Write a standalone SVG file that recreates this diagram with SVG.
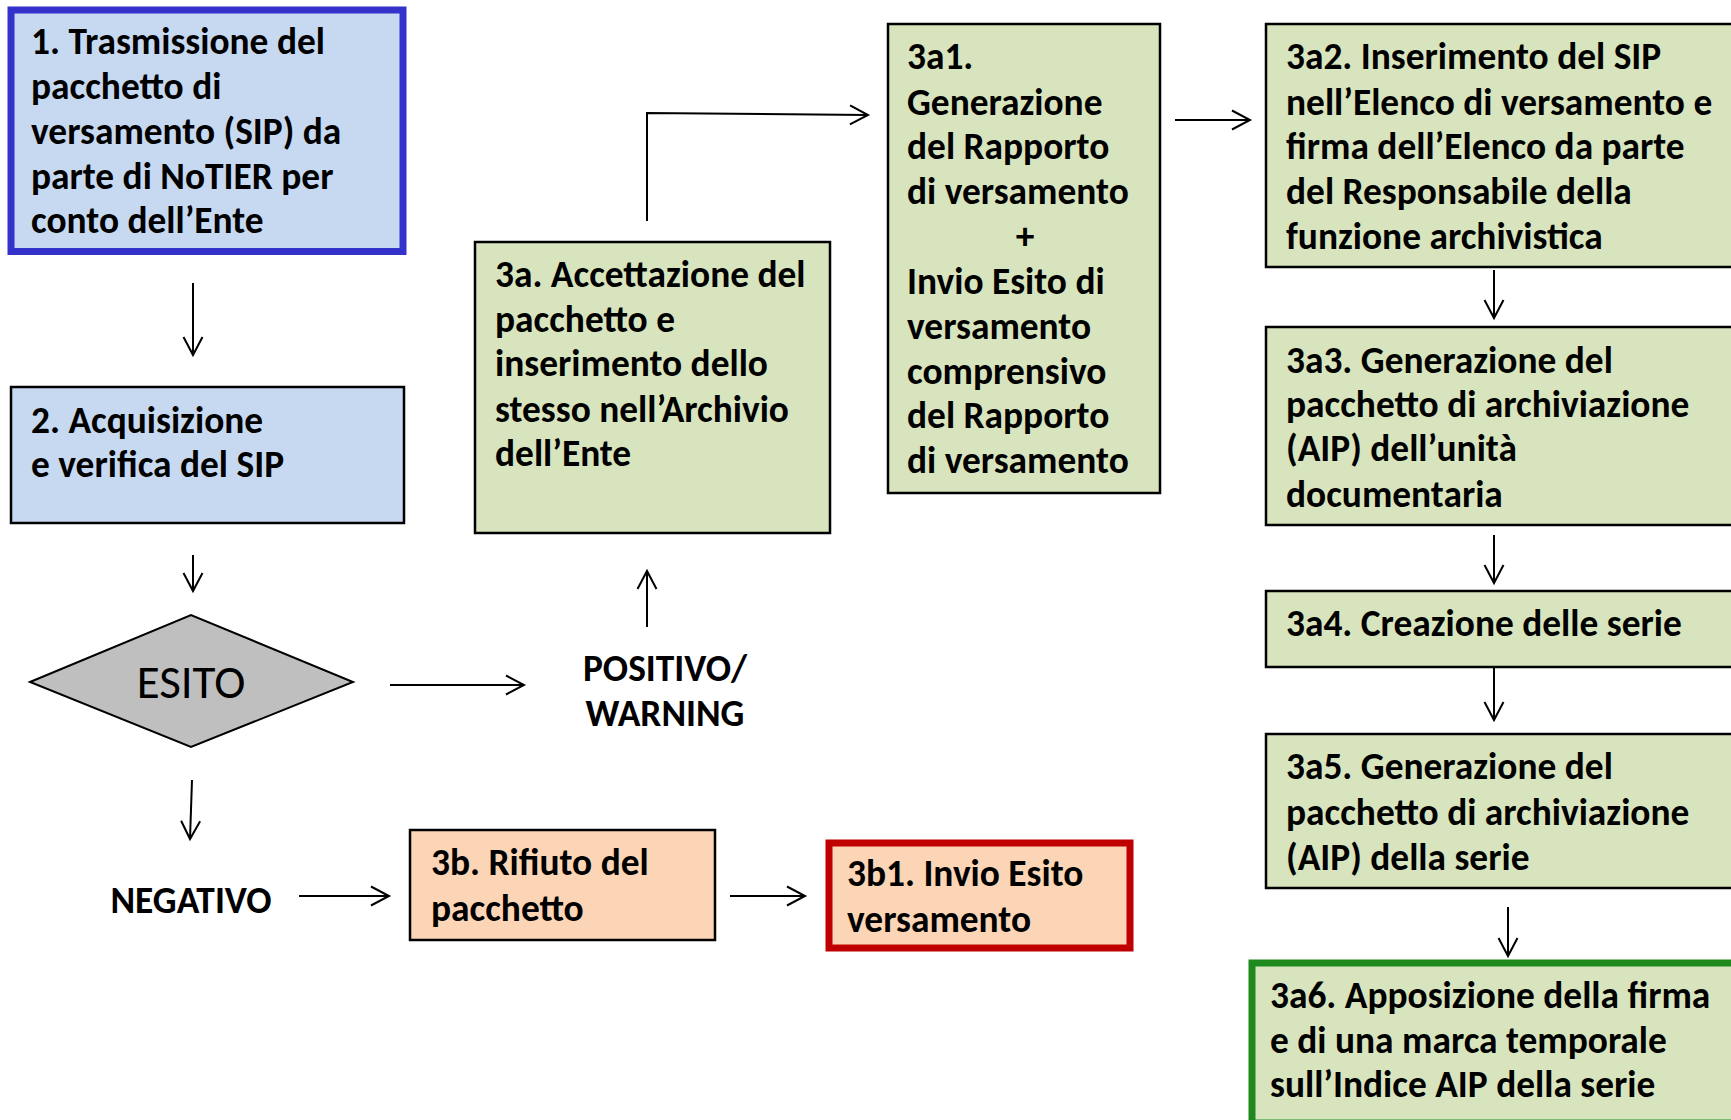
<svg xmlns="http://www.w3.org/2000/svg" width="1731" height="1120" viewBox="0 0 1731 1120">
<style>
.t{font-family:Carlito,Calibri,Lato,"Liberation Sans",sans-serif;font-weight:bold;font-size:37.4px;fill:#000}
.blue{fill:#C6D9F1}
.green{fill:#D7E4BD}
.peach{fill:#FBD5B5}
.thin{stroke:#000;stroke-width:2.5}
.c{fill:none;stroke:#000;stroke-width:2}
</style>
<defs>
<marker id="ah" markerUnits="userSpaceOnUse" markerWidth="24" markerHeight="24" viewBox="-20 -12 24 24" refX="0" refY="0" orient="auto">
<path d="M-18,-9.5 L0,0 L-18,9.5" fill="none" stroke="#000" stroke-width="2"/>
</marker>
</defs>
<rect width="1731" height="1120" fill="#fff"/>
<g id="connectors">
<line class="c" x1="193" y1="283" x2="193" y2="355" marker-end="url(#ah)"/>
<line class="c" x1="193" y1="555" x2="193" y2="591" marker-end="url(#ah)"/>
<line class="c" x1="390" y1="685" x2="524" y2="685" marker-end="url(#ah)"/>
<line class="c" x1="647" y1="627" x2="647" y2="571" marker-end="url(#ah)"/>
<polyline class="c" points="647,221 647,113 868,115" marker-end="url(#ah)"/>
<line class="c" x1="1175" y1="120" x2="1250" y2="120" marker-end="url(#ah)"/>
<line class="c" x1="1494" y1="270" x2="1494" y2="318" marker-end="url(#ah)"/>
<line class="c" x1="1494" y1="535" x2="1494" y2="583" marker-end="url(#ah)"/>
<line class="c" x1="1494" y1="667" x2="1494" y2="720" marker-end="url(#ah)"/>
<line class="c" x1="1508" y1="907" x2="1508" y2="956" marker-end="url(#ah)"/>
<line class="c" x1="192" y1="780" x2="190" y2="839" marker-end="url(#ah)"/>
<line class="c" x1="299" y1="896" x2="389" y2="896" marker-end="url(#ah)"/>
<line class="c" x1="730" y1="896" x2="805" y2="896" marker-end="url(#ah)"/>
</g>
<g id="n1">
<rect class="blue" x="11" y="10" width="392" height="241.5" stroke="#3333CC" stroke-width="7"/>
<text class="t"><tspan x="31" y="54">1. Trasmissione del</tspan><tspan x="31" y="99">pacchetto di</tspan><tspan x="31" y="144">versamento (SIP) da</tspan><tspan x="31" y="189">parte di NoTIER per</tspan><tspan x="31" y="233">conto dell’Ente</tspan></text>
</g>
<g id="n2">
<rect class="blue thin" x="11" y="387" width="393" height="136"/>
<text class="t"><tspan x="31" y="433">2. Acquisizione</tspan><tspan x="31" y="477">e verifica del SIP</tspan></text>
</g>
<g id="esito">
<polygon points="30,682 191,615 353,682 191,747" fill="#BFBFBF" stroke="#000" stroke-width="2"/>
<text x="191" y="698" text-anchor="middle" style="font-family:Carlito,Calibri,Lato,'Liberation Sans',sans-serif;font-size:47px">ESITO</text>
</g>
<g id="positivo">
<text class="t" text-anchor="middle"><tspan x="665" y="681">POSITIVO/</tspan><tspan x="665" y="726">WARNING</tspan></text>
</g>
<g id="negativo">
<text class="t" text-anchor="middle" x="191" y="913">NEGATIVO</text>
</g>
<g id="n3a">
<rect class="green thin" x="475" y="242" width="355" height="291"/>
<text class="t"><tspan x="495" y="287">3a. Accettazione del</tspan><tspan x="495" y="332">pacchetto e</tspan><tspan x="495" y="376">inserimento dello</tspan><tspan x="495" y="422">stesso nell’Archivio</tspan><tspan x="495" y="466">dell’Ente</tspan></text>
</g>
<g id="n3a1">
<rect class="green thin" x="888" y="24" width="272" height="469"/>
<text class="t"><tspan x="907" y="69">3a1.</tspan><tspan x="907" y="115">Generazione</tspan><tspan x="907" y="159">del Rapporto</tspan><tspan x="907" y="204">di versamento</tspan><tspan x="1025" y="249" text-anchor="middle">+</tspan><tspan x="907" y="294">Invio Esito di</tspan><tspan x="907" y="339">versamento</tspan><tspan x="907" y="384">comprensivo</tspan><tspan x="907" y="428">del Rapporto</tspan><tspan x="907" y="473">di versamento</tspan></text>
</g>
<g id="n3a2">
<rect class="green thin" x="1266" y="24" width="480" height="243"/>
<text class="t"><tspan x="1286" y="69">3a2. Inserimento del SIP</tspan><tspan x="1286" y="115">nell’Elenco di versamento e</tspan><tspan x="1286" y="159">firma dell’Elenco da parte</tspan><tspan x="1286" y="204">del Responsabile della</tspan><tspan x="1286" y="249">funzione archivistica</tspan></text>
</g>
<g id="n3a3">
<rect class="green thin" x="1266" y="327" width="480" height="198"/>
<text class="t"><tspan x="1286" y="373">3a3. Generazione del</tspan><tspan x="1286" y="417">pacchetto di archiviazione</tspan><tspan x="1286" y="461">(AIP) dell’unità</tspan><tspan x="1286" y="507">documentaria</tspan></text>
</g>
<g id="n3a4">
<rect class="green thin" x="1266" y="591" width="480" height="76"/>
<text class="t" x="1286" y="636">3a4. Creazione delle serie</text>
</g>
<g id="n3a5">
<rect class="green thin" x="1266" y="734" width="480" height="154"/>
<text class="t"><tspan x="1286" y="779">3a5. Generazione del</tspan><tspan x="1286" y="825">pacchetto di archiviazione</tspan><tspan x="1286" y="870">(AIP) della serie</tspan></text>
</g>
<g id="n3a6">
<rect class="green" x="1252" y="963" width="490" height="160" stroke="#1E8A1E" stroke-width="7"/>
<text class="t"><tspan x="1270" y="1008">3a6. Apposizione della firma</tspan><tspan x="1270" y="1053">e di una marca temporale</tspan><tspan x="1270" y="1097">sull’Indice AIP della serie</tspan></text>
</g>
<g id="n3b">
<rect class="peach thin" x="410" y="830" width="305" height="110"/>
<text class="t"><tspan x="431" y="875">3b. Rifiuto del</tspan><tspan x="431" y="921">pacchetto</tspan></text>
</g>
<g id="n3b1">
<rect class="peach" x="829" y="843" width="301" height="105" stroke="#C00000" stroke-width="7"/>
<text class="t"><tspan x="847" y="886">3b1. Invio Esito</tspan><tspan x="847" y="932">versamento</tspan></text>
</g>
</svg>
